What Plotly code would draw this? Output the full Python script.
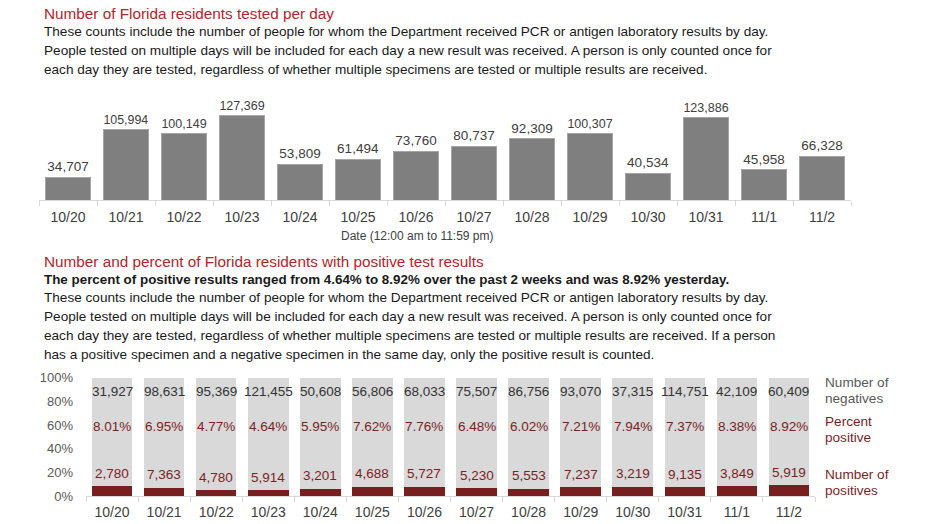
import plotly.graph_objects as go

W, H = 932, 524

dates = ["10/20", "10/21", "10/22", "10/23", "10/24", "10/25", "10/26",
         "10/27", "10/28", "10/29", "10/30", "10/31", "11/1", "11/2"]
tested = [34707, 105994, 100149, 127369, 53809, 61494, 73760,
          80737, 92309, 100307, 40534, 123886, 45958, 66328]
negatives = [31927, 98631, 95369, 121455, 50608, 56806, 68033,
             75507, 86756, 93070, 37315, 114751, 42109, 60409]
positives = [2780, 7363, 4780, 5914, 3201, 4688, 5727,
             5230, 5553, 7237, 3219, 9135, 3849, 5919]
pct_positive = [8.01, 6.95, 4.77, 4.64, 5.95, 7.62, 7.76,
                6.48, 6.02, 7.21, 7.94, 7.37, 8.38, 8.92]

title1 = "Number of Florida residents tested per day"
para1 = [
    "These counts include the number of people for whom the Department received PCR or antigen laboratory results by day.",
    "People tested on multiple days will be included for each day a new result was received. A person is only counted once for",
    "each day they are tested, regardless of whether multiple specimens are tested or multiple results are received.",
]
title2 = "Number and percent of Florida residents with positive test results"
bold2 = "The percent of positive results ranged from 4.64% to 8.92% over the past 2 weeks and was 8.92% yesterday."
para2 = [
    "These counts include the number of people for whom the Department received PCR or antigen laboratory results by day.",
    "People tested on multiple days will be included for each day a new result was received. A person is only counted once for",
    "each day they are tested, regardless of whether multiple specimens are tested or multiple results are received. If a person",
    "has a positive specimen and a negative specimen in the same day, only the positive result is counted.",
]
xlabel1 = "Date (12:00 am to 11:59 pm)"
legend_lines = [("Number of", "negatives"), ("Percent", "positive"), ("Number of", "positives")]

FONT = "Liberation Sans, Arial, sans-serif"
RED_TITLE = "#B5242A"
DARK_RED = "#771E1E"
LABEL_RED = "#7A1F1F"
GRAY_TXT = "#404040"

# effective drawing frame (rendered figure occupies rows 8..516 of the shot)
TOP_OFF, H_EFF = 8, 508


def py(ypx):
    v = (TOP_OFF + H_EFF - ypx) / H_EFF
    return min(max(v, 0.0), 1.0)


def px(xpx):
    return xpx / W


fig = go.Figure()

# Top chart
fig.add_trace(go.Bar(
    x=dates, y=tested, xaxis="x", yaxis="y",
    marker=dict(color="#7F7F7F", line=dict(color="#A6A6A6", width=1)),
    text=[f"{v:,}" for v in tested], textposition="outside",
    textfont=dict(family=FONT, size=13.5, color=GRAY_TXT),
    cliponaxis=False, showlegend=False, hoverinfo="skip",
))

# Bottom chart (100% stacked)
pos_frac = [p / (p + n) for p, n in zip(positives, negatives)]
neg_frac = [n / (p + n) for p, n in zip(positives, negatives)]
fig.add_trace(go.Bar(
    x=dates, y=pos_frac, xaxis="x2", yaxis="y2",
    marker=dict(color=DARK_RED, line=dict(width=0)),
    showlegend=False, hoverinfo="skip",
))
fig.add_trace(go.Bar(
    x=dates, y=neg_frac, xaxis="x2", yaxis="y2",
    marker=dict(color="#D9D9D9", line=dict(width=0)),
    showlegend=False, hoverinfo="skip",
))

annotations = []
for d, n, p, pc, pf in zip(dates, negatives, positives, pct_positive, pos_frac):
    annotations.append(dict(x=d, y=0.88, xref="x2", yref="y2", text=f"{n:,}",
                            showarrow=False, font=dict(family=FONT, size=13.5, color="#333333")))
    annotations.append(dict(x=d, y=0.585, xref="x2", yref="y2", text=f"{pc:.2f}%",
                            showarrow=False, font=dict(family=FONT, size=13.5, color=LABEL_RED)))
    annotations.append(dict(x=d, y=pf, xref="x2", yref="y2", text=f"{p:,}",
                            yanchor="middle", yshift=13,
                            showarrow=False, font=dict(family=FONT, size=13.5, color=LABEL_RED)))

# Legend-like labels on right
leg_y = [(383, 399), (422, 438), (475, 491)]
leg_col = ["#595959", LABEL_RED, LABEL_RED]
for (l1, l2), (y1, y2), c in zip(legend_lines, leg_y, leg_col):
    for t, yy in ((l1, y1), (l2, y2)):
        annotations.append(dict(x=px(823), y=py(yy), xref="paper", yref="paper", text=t,
                                xanchor="left", yanchor="middle", align="left", showarrow=False,
                                font=dict(family=FONT, size=13.6, color=c)))


def text_line(t, ypx, size=13.6, color="#1A1A1A", bold=False):
    return dict(x=px(42), y=py(ypx), xref="paper", yref="paper",
                text=(f"<b>{t}</b>" if bold else t), xanchor="left", yanchor="middle",
                showarrow=False, font=dict(family=FONT, size=size, color=color))


annotations.append(text_line(title1, 14, size=15.3, color=RED_TITLE))
for i, t in enumerate(para1):
    annotations.append(text_line(t, 32 + 19 * i))
annotations.append(text_line(title2, 262, size=15.3, color=RED_TITLE))
annotations.append(text_line(bold2, 280, size=13.4, bold=True))
for i, t in enumerate(para2):
    annotations.append(text_line(t, 298 + 19 * i))

annotations.append(dict(x=px(417), y=py(237), xref="paper", yref="paper", text=xlabel1,
                        xanchor="center", yanchor="middle", showarrow=False,
                        font=dict(family=FONT, size=12, color=GRAY_TXT)))

axis_common = dict(
    type="category", showline=True, linecolor="#D9D9D9", linewidth=1,
    ticks="outside", tickson="boundaries", ticklen=5, tickcolor="#D9D9D9",
    tickfont=dict(family=FONT, size=14, color=GRAY_TXT), showgrid=False,
    zeroline=False, fixedrange=True,
)

fig.update_layout(
    width=W, height=H,
    margin=dict(l=0, r=0, t=0, b=0),
    paper_bgcolor="white", plot_bgcolor="white",
    barmode="stack", bargap=0.22,
    xaxis=dict(domain=[px(39), px(851)], anchor="y", ticklabelstandoff=4, **axis_common),
    yaxis=dict(domain=[py(201), py(101)], range=[0, 150000], visible=False,
               anchor="x", fixedrange=True),
    xaxis2=dict(domain=[px(86), px(815)], anchor="y2", ticklabelstandoff=3, **axis_common),
    yaxis2=dict(domain=[py(496), py(378)], range=[0, 1], anchor="x2",
                tickvals=[0, 0.2, 0.4, 0.6, 0.8, 1.0], tickformat=".0%",
                showgrid=False, zeroline=False, showline=False, ticks="",
                ticklabelstandoff=12,
                tickfont=dict(family=FONT, size=13, color="#595959"), fixedrange=True),
    annotations=annotations,
)

fig.write_html("out.html", config={"displayModeBar": False},
               post_script="document.body.style.margin='0';document.body.style.overflow='hidden';")
